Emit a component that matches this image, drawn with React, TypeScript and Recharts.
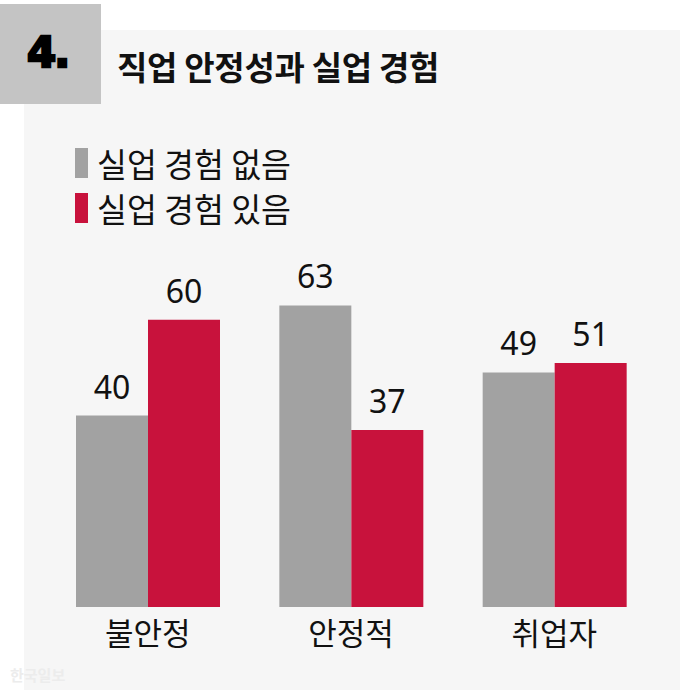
import { Bar, BarChart, LabelList, Legend, XAxis, YAxis } from 'recharts';

const categories = ['불안정', '안정적', '취업자'];
const noExperience = [40, 63, 49];
const withExperience = [60, 37, 51];

const seriesNames = ['실업 경험 없음', '실업 경험 있음'];
const seriesColors = ['#a2a2a2', '#c8123c'];

const data = categories.map((name, i) => ({
  name,
  none: noExperience[i],
  some: withExperience[i],
}));

const KR = '"Noto Sans CJK KR", "Noto Sans", sans-serif';

function CategoryTick({ x, y, payload }: { x?: number; y?: number; payload?: { value: string } }) {
  return (
    <text x={x} y={(y ?? 0) + 38} textAnchor="middle" fontSize={31} fontFamily={KR} fill="#111">
      {payload?.value}
    </text>
  );
}

function LegendBox() {
  return (
    <div style={{ fontFamily: KR }}>
      {seriesNames.map((n, i) => (
        <div key={n} style={{ display: 'flex', alignItems: 'center', height: 45 }}>
          <span style={{ width: 13, height: 30, background: seriesColors[i], marginRight: 9 }} />
          <span style={{ fontSize: 32.5, color: '#111', lineHeight: '32px' }}>{n}</span>
        </div>
      ))}
    </div>
  );
}

export default function App() {
  return (
    <div style={{ position: 'absolute', left: 0, top: 0, width: 680, height: 694, background: '#fff', overflow: 'hidden' }}>
      <div style={{ position: 'absolute', left: 24, top: 30, width: 656, height: 660, background: '#f6f6f6' }} />
      <div style={{ position: 'absolute', left: 0, top: 4, width: 101, height: 100, background: '#c4c4c4' }} />
      <div
        style={{
          position: 'absolute',
          left: 27,
          top: 28,
          fontFamily: '"DejaVu Sans", sans-serif',
          fontWeight: 900,
          fontSize: 42,
          color: '#000',
          WebkitTextStroke: '2.5px #000',
          letterSpacing: -2,
        }}
      >
        4.
      </div>
      <div
        style={{
          position: 'absolute',
          left: 117,
          top: 44,
          fontFamily: KR,
          fontWeight: 700,
          fontSize: 33,
          letterSpacing: -0.3,
          color: '#111',
          lineHeight: '44px',
        }}
      >
        직업 안정성과 실업 경험
      </div>
      <div
        style={{ position: 'absolute', left: 10, top: 664, fontFamily: KR, fontSize: 15, color: '#ececec', fontWeight: 700 }}
      >
        한국일보
      </div>
      <div style={{ position: 'absolute', left: 0, top: 0 }}>
        <BarChart
          width={680}
          height={694}
          data={data}
          margin={{ top: 248, right: 24, left: 46, bottom: 0 }}
          barGap={0}
          barSize={72}
        >
          <XAxis
            dataKey="name"
            height={87}
            axisLine={false}
            tickLine={false}
            tickSize={0}
            tickMargin={0}
            tick={<CategoryTick />}
            interval={0}
          />
          <YAxis hide domain={[0, 75]} />
          <Legend
            layout="horizontal"
            verticalAlign="middle"
            align="center"
            content={<LegendBox />}
            wrapperStyle={{ left: 75, top: 140, width: 'auto' }}
          />
          <Bar dataKey="none" name={seriesNames[0]} fill={seriesColors[0]} isAnimationActive={false}>
            <LabelList dataKey="none" position="top" offset={17} fontSize={32} fontFamily='"Noto Sans", sans-serif' fill="#111" />
          </Bar>
          <Bar dataKey="some" name={seriesNames[1]} fill={seriesColors[1]} isAnimationActive={false}>
            <LabelList dataKey="some" position="top" offset={17} fontSize={32} fontFamily='"Noto Sans", sans-serif' fill="#111" />
          </Bar>
        </BarChart>
      </div>
    </div>
  );
}
